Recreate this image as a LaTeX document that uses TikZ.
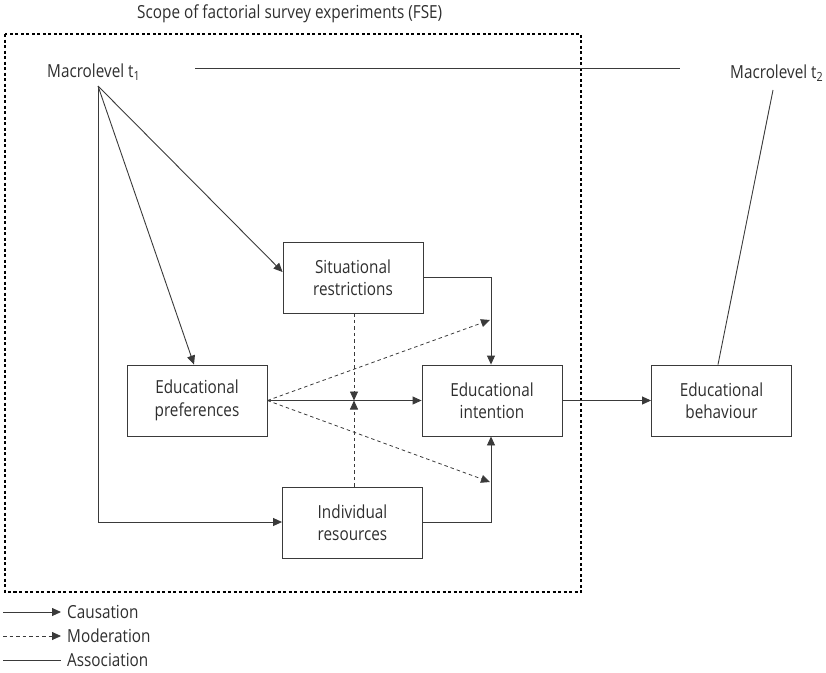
\documentclass[tikz,border=0pt]{standalone}
\usepackage{fontspec}
\setmainfont{Open Sans}[FakeStretch=0.85]
\usetikzlibrary{arrows.meta}
\definecolor{ink}{HTML}{2E2E2E}
\definecolor{ln}{HTML}{3A3A3A}
\begin{document}
\begin{tikzpicture}[x=1pt,y=-1pt,
  every node/.style={text=ink,font=\fontsize{18}{22.5}\selectfont},
  boxnode/.style={draw=ln,line width=0.9pt,minimum width=140pt,minimum height=71pt,align=center,inner sep=0pt},
  cause/.style={draw=ln,line width=0.9pt,-{Triangle[length=9pt,width=8pt]}},
  moder/.style={draw=ln,line width=0.8pt,dash pattern=on 3.5pt off 3pt,-{Triangle[length=9pt,width=8pt]}},
  assoc/.style={draw=ln,line width=0.9pt},
  scopebox/.style={draw=black,line width=1.6pt,dash pattern=on 3pt off 2.5pt}]
\useasboundingbox (0,0) rectangle (826,672);
\draw[scopebox] (5,34) rectangle (581,592);
\node[anchor=west,inner sep=0pt] (title) at (137,14) {Scope of factorial survey experiments (FSE)};
\node[anchor=west,inner sep=0pt] (t1) at (47,72) {Macrolevel t\textsubscript{1}};
\node[anchor=west,inner sep=0pt] (t2) at (730,73) {Macrolevel t\textsubscript{2}};
\coordinate (t1o) at (98,86);
\coordinate (t2o) at (773,90);
\coordinate (hl) at (195,68);
\coordinate (hr) at (680,68);
\node[boxnode] (pref) at (197,400.5) {Educational\\preferences};
\node[boxnode] (sit) at (353,277.5) {Situational\\restrictions};
\node[boxnode] (int) at (492,400.5) {Educational\\intention};
\node[boxnode] (res) at (352.5,522.5) {Individual\\resources};
\node[boxnode] (beh) at (721.5,400.5) {Educational\\behaviour};
% associations
\draw[assoc] (hl) -- (hr);
\draw[assoc] (t2o) -- (beh.north -| 718,0);
% causation
\draw[cause] (t1o) -- (sit.west |- 0,272);
\draw[cause] (t1o) -- (pref.north -| 194,0);
\draw[cause] (t1o) -- (98,522) -- (res.west |- 0,522);
\draw[cause] (sit.east) -- (491,277.5) -- (int.north -| 491,0);
\draw[cause] (res.east) -- (491,522.5) -- (int.south -| 491,0);
\draw[cause] (pref.east) -- (int.west);
\draw[cause] (int.east) -- (beh.west);
% moderation
\coordinate (mu) at (490,320);
\coordinate (md) at (490,482);
\coordinate (mc) at (354,400.5);
\draw[moder] (pref.east) -- (mu);
\draw[moder] (pref.east) -- (md);
\draw[moder] (sit.south -| mc) -- (mc);
\draw[moder] (res.north -| mc) -- (mc);
% legend
\coordinate (l1a) at (3,612); \coordinate (l1b) at (61,612);
\coordinate (l2a) at (3,636); \coordinate (l2b) at (61,636);
\coordinate (l3a) at (3,660); \coordinate (l3b) at (61,660);
\draw[cause] (l1a) -- (l1b);
\draw[moder] (l2a) -- (l2b);
\draw[assoc] (l3a) -- (l3b);
\node[anchor=west,inner sep=0pt] (lc) at (67,612) {Causation};
\node[anchor=west,inner sep=0pt] (lm) at (67,636) {Moderation};
\node[anchor=west,inner sep=0pt] (la) at (67,660) {Association};
\end{tikzpicture}
\end{document}
